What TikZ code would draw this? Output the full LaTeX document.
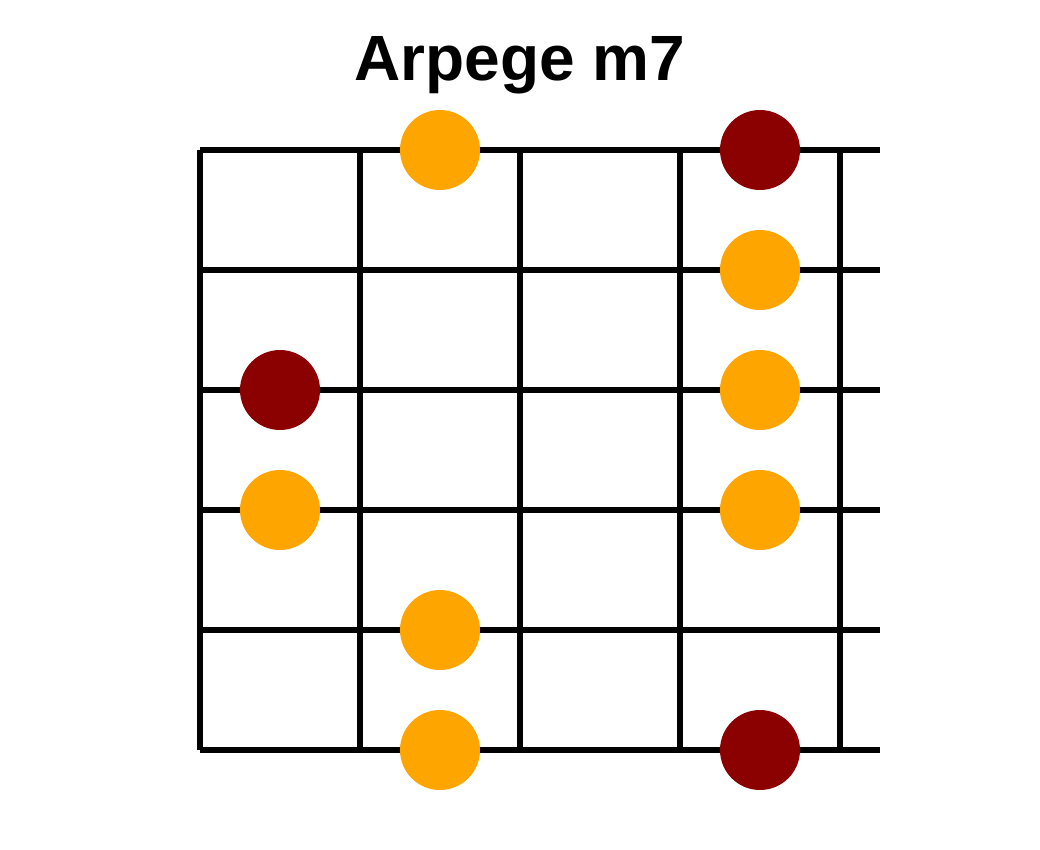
\documentclass[tikz,border=0pt]{standalone}
\usepackage{fontspec}
\setmainfont{Liberation Sans}
\definecolor{tone}{HTML}{FFA500}
\definecolor{root}{HTML}{8B0000}

\begin{document}
\begin{tikzpicture}[x=1pt,y=-1pt]

        \useasboundingbox (0,0) rectangle (1040,850);

        \node[font=\bfseries\fontsize{64}{70}\selectfont, anchor=base] (title) at (520,81) {Arpege m7};

        % strings and frets
        \coordinate (s1a) at (200,150); \coordinate (s1b) at (880,150);
        \coordinate (s2a) at (200,270); \coordinate (s2b) at (880,270);
        \coordinate (s3a) at (200,390); \coordinate (s3b) at (880,390);
        \coordinate (s4a) at (200,510); \coordinate (s4b) at (880,510);
        \coordinate (s5a) at (200,630); \coordinate (s5b) at (880,630);
        \coordinate (s6a) at (200,750); \coordinate (s6b) at (880,750);

        \coordinate (f1a) at (200,150); \coordinate (f1b) at (200,750);
        \coordinate (f2a) at (360,150); \coordinate (f2b) at (360,750);
        \coordinate (f3a) at (520,150); \coordinate (f3b) at (520,750);
        \coordinate (f4a) at (680,150); \coordinate (f4b) at (680,750);
        \coordinate (f5a) at (840,150); \coordinate (f5b) at (840,750);

        \begin{scope}[line width=5.5pt]
          \draw (s1a) -- (s1b);
          \draw (s2a) -- (s2b);
          \draw (s3a) -- (s3b);
          \draw (s4a) -- (s4b);
          \draw (s5a) -- (s5b);
          \draw (s6a) -- (s6b);
          \draw (f1a) -- (f1b);
          \draw (f2a) -- (f2b);
          \draw (f3a) -- (f3b);
          \draw (f4a) -- (f4b);
          \draw (f5a) -- (f5b);
        \end{scope}

        % notes
        \begin{scope}[every node/.style={circle, minimum size=80pt, inner sep=0pt}]
          \node[fill=tone] (1)  at (440,150) {};
          \node[fill=root] (2)  at (760,150) {};
          \node[fill=tone] (3)  at (760,270) {};
          \node[fill=root] (4)  at (280,390) {};
          \node[fill=tone] (5)  at (760,390) {};
          \node[fill=tone] (6)  at (280,510) {};
          \node[fill=tone] (7)  at (760,510) {};
          \node[fill=tone] (8)  at (440,630) {};
          \node[fill=tone] (9)  at (440,750) {};
          \node[fill=root] (10) at (760,750) {};
        \end{scope}

      \end{tikzpicture}
\end{document}
